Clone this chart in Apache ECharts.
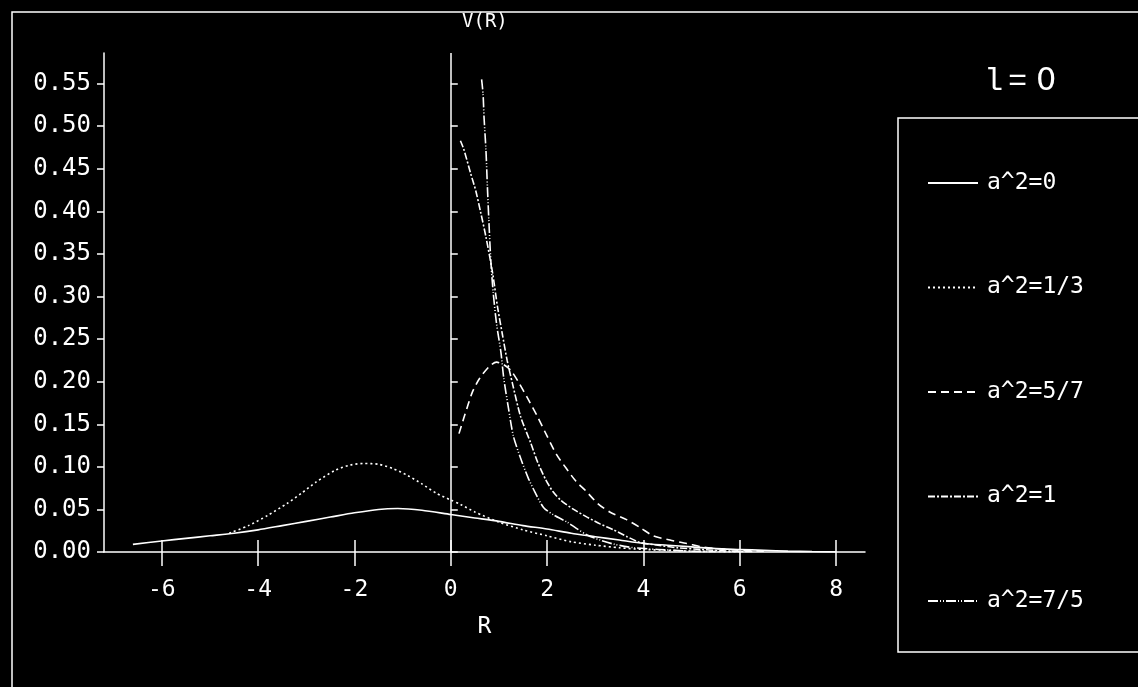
<!DOCTYPE html>
<html>
<head>
<meta charset="utf-8">
<title>V(R)</title>
<script src="https://cdn.jsdelivr.net/npm/echarts@6/dist/echarts.min.js"></script>
<style>
  html, body { margin: 0; padding: 0; background: #000; }
  #chart { width: 1138px; height: 687px; }
</style>
</head>
<body>
<div id="chart"></div>
<script>
// Potential V(R) for l = 0, one curve per value of a^2. Points are [R, V].
const seriesNames = ['a^2=0', 'a^2=1/3', 'a^2=5/7', 'a^2=1', 'a^2=7/5'];

const vA0 = [
  [-6.6, 0.009], [-6.0, 0.013], [-5.5, 0.016], [-5.0, 0.019], [-4.5, 0.022],
  [-4.0, 0.026], [-3.5, 0.031], [-3.0, 0.036], [-2.5, 0.041], [-2.0, 0.046],
  [-1.5, 0.050], [-1.1, 0.051], [-0.6, 0.049], [0.0, 0.044], [0.5, 0.040],
  [1.0, 0.036], [1.5, 0.031], [2.0, 0.027], [2.5, 0.022], [3.0, 0.018],
  [3.5, 0.014], [4.0, 0.010], [4.5, 0.008], [5.0, 0.006], [5.5, 0.004],
  [6.0, 0.003], [6.5, 0.002], [7.0, 0.001], [7.5, 0.0005], [8.0, 0.0002]
];

const vA13 = [
  [-4.6, 0.022], [-4.2, 0.031], [-3.8, 0.043], [-3.4, 0.057], [-3.1, 0.069],
  [-2.8, 0.082], [-2.4, 0.096], [-2.1, 0.102], [-1.8, 0.104], [-1.5, 0.103],
  [-1.2, 0.098], [-0.9, 0.090], [-0.6, 0.080], [-0.3, 0.069], [0.0, 0.061],
  [0.2, 0.056], [0.5, 0.047], [1.0, 0.035], [1.5, 0.026], [2.0, 0.019],
  [2.5, 0.012], [3.0, 0.008], [3.5, 0.005], [4.0, 0.003], [4.5, 0.002],
  [5.0, 0.001], [5.5, 0.0006], [6.0, 0.0003]
];

const vA57 = [
  [0.17, 0.139], [0.28, 0.159], [0.45, 0.188], [0.6, 0.204], [0.8, 0.218],
  [0.95, 0.223], [1.1, 0.220], [1.25, 0.213], [1.4, 0.200], [1.6, 0.180],
  [1.8, 0.159], [2.0, 0.136], [2.2, 0.114], [2.4, 0.098], [2.6, 0.083],
  [2.8, 0.072], [3.05, 0.057], [3.3, 0.047], [3.65, 0.038], [3.95, 0.028],
  [4.2, 0.019], [4.55, 0.014], [4.9, 0.010], [5.2, 0.006], [5.5, 0.004],
  [6.0, 0.002], [6.5, 0.001]
];

const vA1 = [
  [0.2, 0.483], [0.27, 0.473], [0.41, 0.445], [0.52, 0.424], [0.62, 0.399],
  [0.73, 0.370], [0.87, 0.327], [0.97, 0.288], [1.07, 0.256], [1.17, 0.225],
  [1.28, 0.198], [1.45, 0.159], [1.66, 0.128], [1.8, 0.106], [1.97, 0.085],
  [2.12, 0.071], [2.28, 0.061], [2.55, 0.050], [2.83, 0.041], [3.1, 0.033],
  [3.38, 0.026], [3.66, 0.018], [3.94, 0.011], [4.3, 0.008], [4.7, 0.005],
  [5.2, 0.003], [5.8, 0.001], [6.3, 0.0005]
];

const vA75 = [
  [0.64, 0.555], [0.67, 0.538], [0.69, 0.511], [0.73, 0.472], [0.76, 0.429],
  [0.79, 0.390], [0.83, 0.343], [0.88, 0.305], [0.95, 0.268], [1.04, 0.235],
  [1.1, 0.204], [1.2, 0.168], [1.3, 0.136], [1.45, 0.110], [1.6, 0.088],
  [1.75, 0.070], [1.93, 0.052], [2.15, 0.043], [2.42, 0.035], [2.6, 0.028],
  [2.83, 0.020], [3.1, 0.014], [3.4, 0.009], [3.8, 0.005], [4.3, 0.003],
  [5.0, 0.001], [5.5, 0.0005]
];

const xTicks = [-6, -4, -2, 0, 2, 4, 6, 8];
const yTicks = [0, 0.05, 0.10, 0.15, 0.20, 0.25, 0.30, 0.35, 0.40, 0.45, 0.50, 0.55];

const curves = [vA0, vA13, vA57, vA1, vA75];
const dashes = ['solid', [2, 3], [8, 5], [7, 2, 2, 2], [10, 2, 1, 2, 1, 2]];

const FG = '#ffffff';
const MONO = '"DejaVu Sans Mono", "Liberation Mono", monospace';

const chart = echarts.init(document.getElementById('chart'), null, { renderer: 'canvas' });

const series = curves.map((pts, i) => {
  const s = {
    name: seriesNames[i],
    type: 'line',
    data: pts,
    symbol: 'none',
    smooth: 0.25,
    xAxisIndex: 0,
    yAxisIndex: 0,
    lineStyle: { color: FG, width: 1.6, type: dashes[i] },
    itemStyle: { color: FG },
    animation: false
  };
  if (i === 0) {
    // vertical reference line at R = 0
    s.markLine = {
      silent: true,
      symbol: 'none',
      label: { show: false },
      lineStyle: { color: FG, width: 1.5, type: 'solid' },
      data: [{ xAxis: 0 }]
    };
  }
  return s;
});

const xRange = { min: -7.2, max: 8.6 };
const yRange = { min: 0, max: 0.586 };

const option = {
  backgroundColor: '#000000',
  animation: false,
  grid: { left: 104, right: 273, top: 53, bottom: 135, containLabel: false },
  xAxis: [
    {
      type: 'value', position: 'bottom', ...xRange,
      name: 'R', nameLocation: 'middle', nameGap: 64,
      nameTextStyle: { color: FG, fontFamily: MONO, fontSize: 23 },
      axisLine: { show: true, onZero: false, lineStyle: { color: FG, width: 1.5 } },
      axisTick: { show: true, inside: false, length: 14, customValues: xTicks, lineStyle: { color: FG, width: 1.5 } },
      axisLabel: { show: true, customValues: xTicks, margin: 27, color: FG, fontFamily: MONO, fontSize: 23,
                   formatter: v => String(v) },
      splitLine: { show: false }
    },
    {
      type: 'value', position: 'bottom', ...xRange,
      axisLine: { show: false },
      axisTick: { show: true, inside: true, length: 12, customValues: xTicks, lineStyle: { color: FG, width: 1.5 } },
      axisLabel: { show: false },
      splitLine: { show: false }
    }
  ],
  yAxis: [
    {
      type: 'value', position: 'left', ...yRange,
      axisLine: { show: true, onZero: false, lineStyle: { color: FG, width: 1.5 } },
      axisTick: { show: true, inside: false, length: 7, customValues: yTicks, lineStyle: { color: FG, width: 1.5 } },
      axisLabel: { show: true, customValues: yTicks, margin: 13, color: FG, fontFamily: MONO, fontSize: 24,
                   formatter: v => v.toFixed(2) },
      splitLine: { show: false }
    },
    {
      type: 'value', position: 'left', ...yRange,
      axisLine: { show: false },
      axisTick: { show: true, inside: true, length: 7, customValues: yTicks, lineStyle: { color: FG, width: 1.5 } },
      axisLabel: { show: false },
      splitLine: { show: false }
    }
  ],
  legend: {
    orient: 'vertical',
    left: 922,
    top: 166,
    itemGap: 80.5,
    itemWidth: 50,
    itemHeight: 14,
    selectedMode: false,
    data: seriesNames,
    // line sample only, no marker dot
    itemStyle: { color: 'rgba(0,0,0,0)', borderWidth: 0, opacity: 0 },
    textStyle: { color: FG, fontFamily: MONO, fontSize: 23, lineHeight: 24, padding: [0, 0, 0, 4] }
  },
  graphic: [
    // outer frame
    { type: 'rect', shape: { x: 12, y: 12, width: 1200, height: 1000 },
      style: { fill: 'none', stroke: FG, lineWidth: 1.5 }, silent: true },
    // legend frame
    { type: 'rect', shape: { x: 898, y: 118, width: 300, height: 534 },
      style: { fill: 'none', stroke: FG, lineWidth: 1.5 }, silent: true },
    // plot heading
    { type: 'text', left: 462, top: 13,
      style: { text: 'V(R)', fill: FG, font: '19px ' + MONO }, silent: true },
    // legend heading "l = 0"
    { type: 'text', left: 984, top: 66,
      style: { text: 'l', fill: FG, font: '32px "Liberation Mono", monospace' }, silent: true },
    { type: 'text', left: 1008, top: 66,
      style: { text: '=', fill: FG, font: '32px "Liberation Mono", monospace' }, silent: true },
    { type: 'text', left: 1036, top: 66,
      style: { text: '0', fill: FG, font: '32px "DejaVu Sans", sans-serif' }, silent: true }
  ],
  series: series
};

chart.setOption(option);
</script>
</body>
</html>
